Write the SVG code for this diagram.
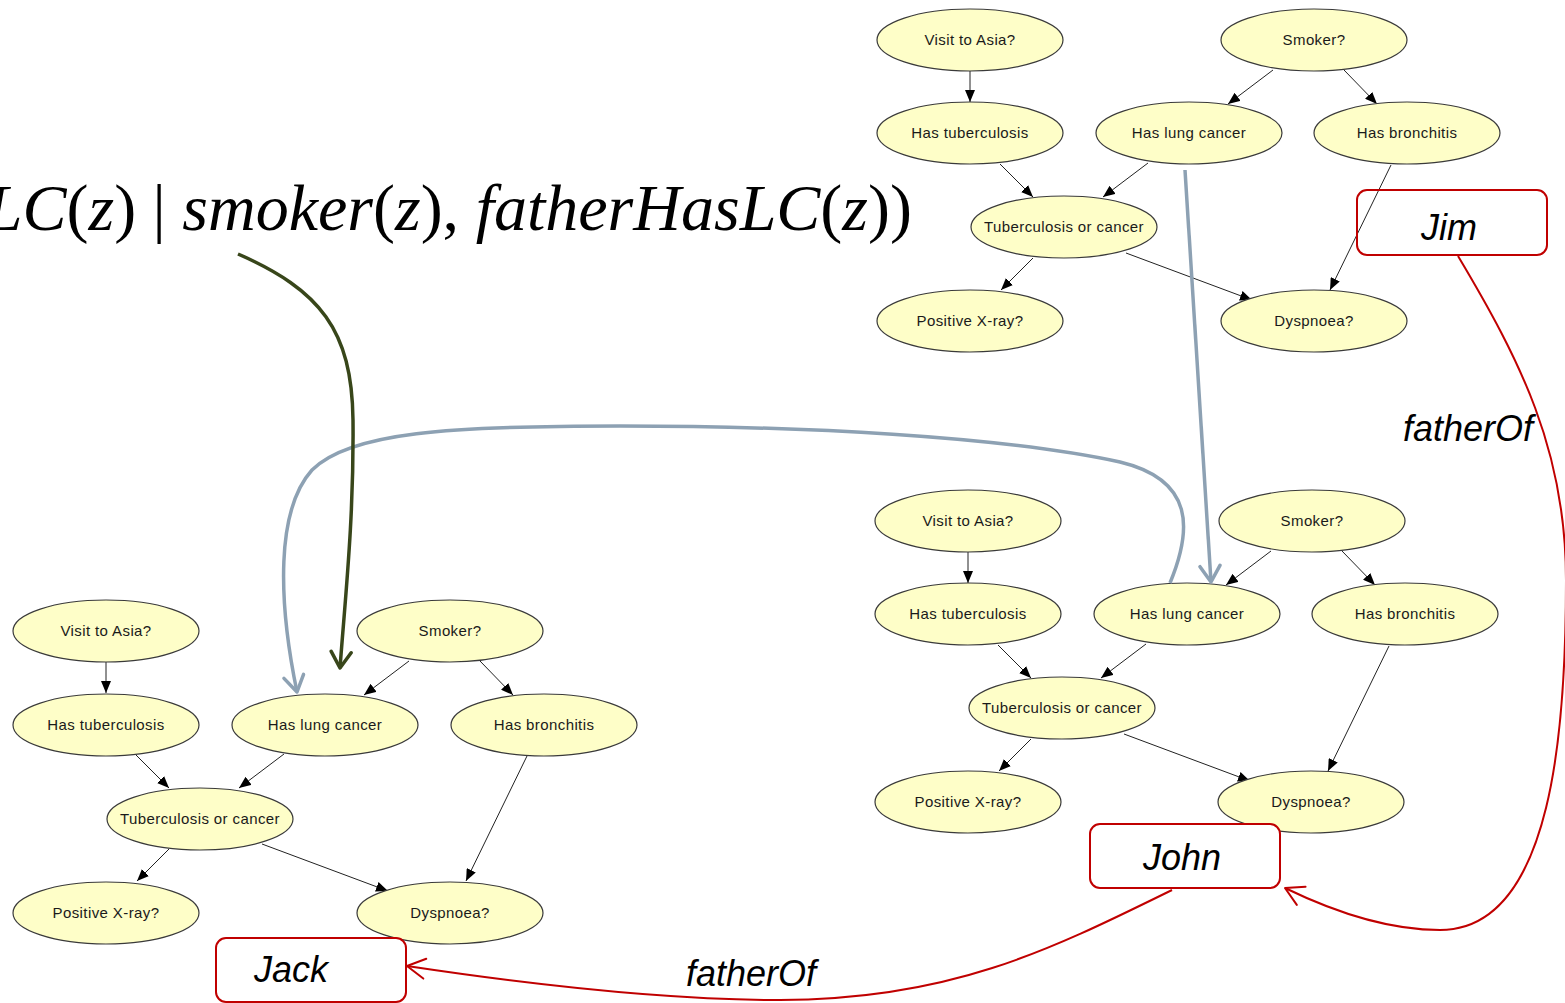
<svg xmlns="http://www.w3.org/2000/svg" width="1565" height="1003" viewBox="0 0 1565 1003">
  <style>
    .node ellipse { fill: #fefec8; stroke: #3a3a3a; stroke-width: 1.2; }
    .node text { font-family: "Liberation Sans", Arial, sans-serif; font-size: 15px; letter-spacing: 0.4px; fill: #1a1a1a; text-anchor: middle; }
    .edge { stroke: #222; stroke-width: 1; fill: none; marker-end: url(#tri); }
    .who rect { fill: none; stroke: #c00000; stroke-width: 2; }
    .who text, .rel { font-family: "Liberation Sans", Arial, sans-serif; font-style: italic; font-size: 36px; fill: #000; }
    .who text { text-anchor: middle; }
    .red { stroke: #c00000; stroke-width: 2; fill: none; marker-end: url(#chevRed); }
    .blue { stroke: #8da1b3; stroke-width: 3.5; fill: none; marker-end: url(#chevBlue); }
    .green { stroke: #38461a; stroke-width: 3.5; fill: none; marker-end: url(#chevGreen); }
    .eq { font-family: "Liberation Serif", "Times New Roman", serif; font-size: 66px; fill: #000; }
    .eq .i { font-style: italic; }
  </style>
  <defs>
    <marker id="tri" viewBox="0 0 12 10" refX="12" refY="5" markerWidth="12" markerHeight="10" markerUnits="userSpaceOnUse" orient="auto">
      <path d="M0,0 L12,5 L0,10 Z" fill="#000"/>
    </marker>
    <marker id="chevBlue" viewBox="-20 -12 22 24" refX="0" refY="0" markerWidth="22" markerHeight="24" markerUnits="userSpaceOnUse" orient="auto">
      <path d="M-16,-10 L0,0 L-16,10" fill="none" stroke="#8da1b3" stroke-width="3.5" stroke-linecap="round" stroke-linejoin="round"/>
    </marker>
    <marker id="chevGreen" viewBox="-20 -12 22 24" refX="0" refY="0" markerWidth="22" markerHeight="24" markerUnits="userSpaceOnUse" orient="auto">
      <path d="M-16,-10 L0,0 L-16,10" fill="none" stroke="#38461a" stroke-width="3.5" stroke-linecap="round" stroke-linejoin="round"/>
    </marker>
    <marker id="chevRed" viewBox="-20 -12 22 24" refX="0" refY="0" markerWidth="22" markerHeight="24" markerUnits="userSpaceOnUse" orient="auto">
      <path d="M-18,-10 L0,0 L-18,10" fill="none" stroke="#c00000" stroke-width="2" stroke-linecap="round" stroke-linejoin="round"/>
    </marker>
  </defs>
  <rect width="1565" height="1003" fill="#fff"/>

  <!-- Asia network for Jim -->
  <g id="net-jim" transform="translate(970,40)">
    <g id="net-jim-edges">
      <path class="edge" d="M0,31 L0,62"/>
      <path class="edge" d="M303,30 L258,64"/>
      <path class="edge" d="M374,30 L407,64"/>
      <path class="edge" d="M30,124 L63,157"/>
      <path class="edge" d="M178,123 L133,157"/>
      <path class="edge" d="M63,218 L31,250"/>
      <path class="edge" d="M156,213 L282,260"/>
      <path class="edge" d="M421,125 L360,250"/>
    </g>
    <g id="jim-visit" class="node"><ellipse cx="0" cy="0" rx="93" ry="31"/><text x="0" y="5">Visit to Asia?</text></g>
    <g id="jim-smoker" class="node"><ellipse cx="344" cy="0" rx="93" ry="31"/><text x="344" y="5">Smoker?</text></g>
    <g id="jim-tub" class="node"><ellipse cx="0" cy="93" rx="93" ry="31"/><text x="0" y="98">Has tuberculosis</text></g>
    <g id="jim-lc" class="node"><ellipse cx="219" cy="93" rx="93" ry="31"/><text x="219" y="98">Has lung cancer</text></g>
    <g id="jim-bron" class="node"><ellipse cx="437" cy="93" rx="93" ry="31"/><text x="437" y="98">Has bronchitis</text></g>
    <g id="jim-torc" class="node"><ellipse cx="94" cy="187" rx="93" ry="31"/><text x="94" y="192">Tuberculosis or cancer</text></g>
    <g id="jim-xray" class="node"><ellipse cx="0" cy="281" rx="93" ry="31"/><text x="0" y="286">Positive X-ray?</text></g>
    <g id="jim-dysp" class="node"><ellipse cx="344" cy="281" rx="93" ry="31"/><text x="344" y="286">Dyspnoea?</text></g>
  </g>

  <!-- Asia network for John -->
  <g id="net-john" transform="translate(968,521)">
    <g id="net-john-edges">
      <path class="edge" d="M0,31 L0,62"/>
      <path class="edge" d="M303,30 L258,64"/>
      <path class="edge" d="M374,30 L407,64"/>
      <path class="edge" d="M30,124 L63,157"/>
      <path class="edge" d="M178,123 L133,157"/>
      <path class="edge" d="M63,218 L31,250"/>
      <path class="edge" d="M156,213 L282,260"/>
      <path class="edge" d="M421,125 L360,250"/>
    </g>
    <g id="john-visit" class="node"><ellipse cx="0" cy="0" rx="93" ry="31"/><text x="0" y="5">Visit to Asia?</text></g>
    <g id="john-smoker" class="node"><ellipse cx="344" cy="0" rx="93" ry="31"/><text x="344" y="5">Smoker?</text></g>
    <g id="john-tub" class="node"><ellipse cx="0" cy="93" rx="93" ry="31"/><text x="0" y="98">Has tuberculosis</text></g>
    <g id="john-lc" class="node"><ellipse cx="219" cy="93" rx="93" ry="31"/><text x="219" y="98">Has lung cancer</text></g>
    <g id="john-bron" class="node"><ellipse cx="437" cy="93" rx="93" ry="31"/><text x="437" y="98">Has bronchitis</text></g>
    <g id="john-torc" class="node"><ellipse cx="94" cy="187" rx="93" ry="31"/><text x="94" y="192">Tuberculosis or cancer</text></g>
    <g id="john-xray" class="node"><ellipse cx="0" cy="281" rx="93" ry="31"/><text x="0" y="286">Positive X-ray?</text></g>
    <g id="john-dysp" class="node"><ellipse cx="343" cy="281" rx="93" ry="31"/><text x="343" y="286">Dyspnoea?</text></g>
  </g>

  <!-- Asia network for Jack -->
  <g id="net-jack" transform="translate(106,631)">
    <g id="net-jack-edges">
      <path class="edge" d="M0,31 L0,62"/>
      <path class="edge" d="M303,30 L258,64"/>
      <path class="edge" d="M374,30 L407,64"/>
      <path class="edge" d="M30,124 L63,157"/>
      <path class="edge" d="M178,123 L133,157"/>
      <path class="edge" d="M63,218 L31,250"/>
      <path class="edge" d="M156,213 L282,260"/>
      <path class="edge" d="M421,125 L360,250"/>
    </g>
    <g id="jack-visit" class="node"><ellipse cx="0" cy="0" rx="93" ry="31"/><text x="0" y="5">Visit to Asia?</text></g>
    <g id="jack-smoker" class="node"><ellipse cx="344" cy="0" rx="93" ry="31"/><text x="344" y="5">Smoker?</text></g>
    <g id="jack-tub" class="node"><ellipse cx="0" cy="94" rx="93" ry="31"/><text x="0" y="99">Has tuberculosis</text></g>
    <g id="jack-lc" class="node"><ellipse cx="219" cy="94" rx="93" ry="31"/><text x="219" y="99">Has lung cancer</text></g>
    <g id="jack-bron" class="node"><ellipse cx="438" cy="94" rx="93" ry="31"/><text x="438" y="99">Has bronchitis</text></g>
    <g id="jack-torc" class="node"><ellipse cx="94" cy="188" rx="93" ry="31"/><text x="94" y="193">Tuberculosis or cancer</text></g>
    <g id="jack-xray" class="node"><ellipse cx="0" cy="282" rx="93" ry="31"/><text x="0" y="287">Positive X-ray?</text></g>
    <g id="jack-dysp" class="node"><ellipse cx="344" cy="282" rx="93" ry="31"/><text x="344" y="287">Dyspnoea?</text></g>
  </g>

  <!-- conditional probability formula -->
  <text class="eq" x="912" y="230" text-anchor="end"><tspan class="i">LC</tspan>(<tspan class="i">z</tspan>) | <tspan class="i">smoker</tspan>(<tspan class="i">z</tspan>), <tspan class="i">fatherHasLC</tspan>(<tspan class="i">z</tspan>))</text>

  <!-- person boxes -->
  <g id="jim" class="who"><rect x="1357" y="190" width="190" height="65" rx="10"/><text x="1449" y="240">Jim</text></g>
  <g id="john" class="who"><rect x="1090" y="824" width="190" height="64" rx="10" style="fill:#fff"/><text x="1182" y="870">John</text></g>
  <g id="jack" class="who"><rect x="216" y="938" width="190" height="64" rx="10" style="fill:#fff"/><text x="291" y="982">Jack</text></g>

  <g id="links">
    <!-- lung cancer dependencies across networks -->
    <path class="blue" d="M1185,170 L1211,582"/>
    <path class="blue" d="M1170,583 C1192,530 1195,480 1120,462 C1000,436 800,426 620,426 C450,426 350,432 312,470 C276,510 278,600 297,692"/>
    <path class="green" d="M238,254 C320,290 352,330 353,420 C354,520 345,600 340,668"/>
    <!-- fatherOf relations -->
    <path class="red" d="M1458,256 C1520,360 1566,450 1566,580 C1566,720 1555,930 1440,930 C1380,930 1320,905 1285,888"/>
    <path class="red" d="M1172,890 C1050,950 950,1000 780,1000 C650,1000 500,980 407,966"/>
  </g>
  <text class="rel" x="1403" y="441">fatherOf</text>
  <text class="rel" x="686" y="986">fatherOf</text>
</svg>
